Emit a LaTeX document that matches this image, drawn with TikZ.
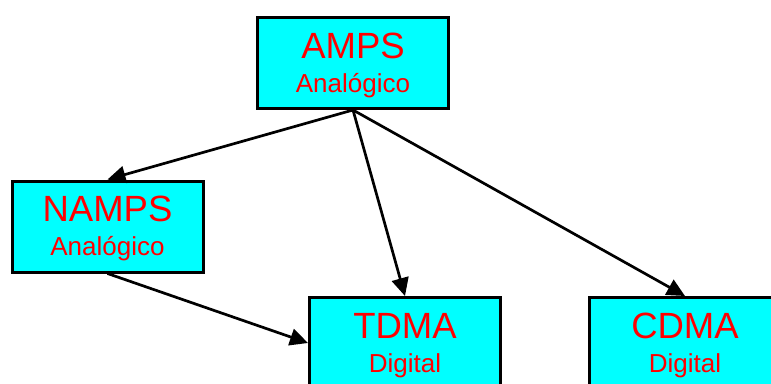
\documentclass[tikz,border=0pt]{standalone}
\usepackage{fontspec}
\setmainfont{Liberation Sans}
\usetikzlibrary{arrows.meta}
\definecolor{boxcyan}{RGB}{0,255,255}
\definecolor{txtred}{RGB}{255,0,0}
\tikzset{
  sysbox/.style={draw=black, fill=boxcyan, line width=3pt, minimum width=191pt, minimum height=91pt, inner sep=0pt},
  bigtxt/.style={anchor=base, text=txtred, font=\fontsize{36.5}{40}\selectfont, inner sep=0pt},
  smalltxt/.style={anchor=base, text=txtred, font=\fontsize{26}{28}\selectfont, inner sep=0pt},
  arr/.style={line width=2.7pt, -{Triangle[length=18pt,width=17pt]}}
}
\begin{document}
\begin{tikzpicture}[x=1pt,y=-1pt]
\useasboundingbox (0,0) rectangle (771,383);
\clip (0,0) rectangle (771,383);
\node[sysbox] (amps) at (353,63) {};
\node[sysbox] (namps) at (107.5,226.5) {};
\node[sysbox] (tdma) at (405,343) {};
\node[sysbox] (cdma) at (685,343) {};
\foreach \b/\t/\s in {amps/AMPS/Analógico, namps/NAMPS/Analógico, tdma/TDMA/Digital, cdma/CDMA/Digital}{
  \node[bigtxt] (\b-t) at ([yshift=-42pt]\b.north) {\t};
  \node[smalltxt] (\b-s) at ([yshift=-76pt]\b.north) {\s};
}
\draw[arr] (amps.south) -- (namps.north);
\draw[arr] (amps.south) -- (tdma.north);
\draw[arr] (amps.south) -- (cdma.north);
\draw[arr] (namps.south) -- (tdma.west);
\end{tikzpicture}
\end{document}
